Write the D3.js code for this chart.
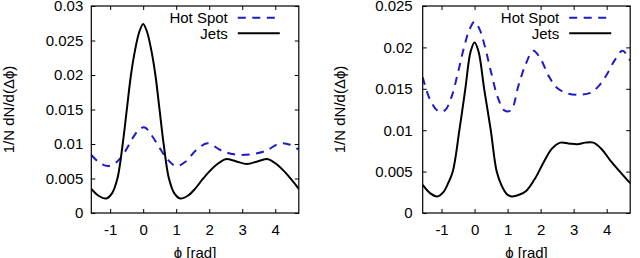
<!DOCTYPE html>
<html>
<head>
<meta charset="utf-8">
<script src="https://cdn.jsdelivr.net/npm/d3@7"></script>
<style>
  body { margin: 0; background: #fff; }
  svg { display: block; font-family: "Liberation Sans", Arial, sans-serif; }
  .axis path { display: none; }
  .axis line { stroke: #000; stroke-width: 1; }
  .axis text { font-size: 15px; fill: #000; }
</style>
</head>
<body>
<svg id="chart" width="640" height="258"></svg>
<script>
// x ticks shared by both panels
var phiTicks = [-1, 0, 1, 2, 3, 4];
var yTicksA = [0, 0.005, 0.01, 0.015, 0.02, 0.025, 0.03];
var yTicksB = [0, 0.005, 0.01, 0.015, 0.02, 0.025];

// left panel
var phiJetsA = [-1.57,-1.35,-1.12,-0.95,-0.78,-0.62,-0.5,-0.37,-0.25,-0.12,0,0.12,0.25,0.37,0.5,0.62,0.78,0.95,1.12,1.35,1.57,1.8,2.0,2.25,2.5,2.8,3.14,3.48,3.78,4.03,4.28,4.48,4.71];
var jetsA = [0.0035,0.0025,0.0021,0.0028,0.005,0.010,0.0148,0.020,0.0235,0.0262,0.0274,0.0262,0.0235,0.020,0.0148,0.010,0.005,0.0028,0.0021,0.0025,0.0035,0.0049,0.0060,0.0071,0.0078,0.0075,0.0071,0.0075,0.0078,0.0071,0.0060,0.0049,0.0035];
var phiHotA = [-1.57,-1.3,-1.05,-0.8,-0.55,-0.3,-0.1,0.05,0.25,0.5,0.75,1.0,1.3,1.6,1.95,2.35,2.75,3.25,3.7,4.15,4.45,4.71];
var hotA = [0.0084,0.0072,0.0068,0.0074,0.0089,0.0110,0.0122,0.0124,0.0113,0.0094,0.0077,0.0068,0.0075,0.0091,0.0101,0.0091,0.0085,0.0085,0.0090,0.0101,0.0099,0.0092];

// right panel
var phiJetsB = [-1.57,-1.35,-1.13,-0.95,-0.8,-0.66,-0.46,-0.28,-0.12,0,0.12,0.29,0.49,0.67,0.82,0.97,1.12,1.35,1.57,1.85,2.1,2.35,2.6,2.85,3.11,3.35,3.6,3.85,4.1,4.4,4.71];
var jetsB = [0.0034,0.0024,0.0020,0.0025,0.0036,0.0050,0.0100,0.0150,0.0195,0.0206,0.0195,0.0150,0.0100,0.0050,0.0033,0.0023,0.0020,0.0022,0.0027,0.0043,0.0062,0.0078,0.0085,0.0084,0.0083,0.0085,0.0085,0.0077,0.0064,0.0050,0.0036];
var phiHotB = [-1.57,-1.35,-1.1,-0.9,-0.7,-0.5,-0.3,-0.15,0,0.15,0.3,0.5,0.7,0.9,1.1,1.33,1.55,1.78,2.0,2.25,2.5,2.85,3.2,3.5,3.75,4.0,4.25,4.48,4.71];
var hotB = [0.0164,0.0137,0.0123,0.0124,0.0140,0.0170,0.0203,0.0222,0.0231,0.0222,0.0203,0.0170,0.0140,0.0124,0.0124,0.0154,0.0180,0.0196,0.0186,0.0165,0.0151,0.0144,0.0143,0.0145,0.0153,0.0167,0.0185,0.0196,0.0184];

var seriesNames = ["Hot Spot", "Jets"];
var hotColor = "#1c1cc8";

var svg = d3.select("#chart");

function drawPanel(id, left, pad, yMax, yTicks, phiHot, hot, phiJets, jets, titleX) {
    var top = 6, width = 207.5, height = 207;
    var g = svg.append("g").attr("transform", "translate(" + left + "," + top + ")");

    var x = d3.scaleLinear().domain([-Math.PI / 2, 3 * Math.PI / 2]).range([0, width]);
    var y = d3.scaleLinear().domain([0, yMax]).range([height, 0]);
    var fmt = function (d) { return String(d); };

    g.append("defs").append("clipPath").attr("id", "clip" + id)
        .append("rect").attr("width", width).attr("height", height);

    g.append("g").attr("class", "axis").attr("transform", "translate(0," + height + ")")
        .call(d3.axisBottom(x).tickValues(phiTicks).tickSize(-4).tickPadding(11).tickFormat(fmt));
    g.append("g").attr("class", "axis")
        .call(d3.axisTop(x).tickValues(phiTicks).tickSize(-4).tickFormat(""));
    g.append("g").attr("class", "axis")
        .call(d3.axisLeft(y).tickValues(yTicks).tickSize(-4).tickPadding(pad).tickFormat(fmt));
    g.append("g").attr("class", "axis").attr("transform", "translate(" + width + ",0)")
        .call(d3.axisRight(y).tickValues(yTicks).tickSize(-4).tickFormat(""));

    var line = d3.line()
        .x(function (d) { return x(d[0]); })
        .y(function (d) { return y(d[1]); })
        .curve(d3.curveCatmullRom.alpha(0.5));

    var plot = g.append("g").attr("clip-path", "url(#clip" + id + ")");
    plot.append("path")
        .datum(d3.zip(phiHot, hot))
        .attr("fill", "none").attr("stroke", hotColor).attr("stroke-width", 2)
        .attr("stroke-dasharray", "8,6.5")
        .attr("d", line);
    plot.append("path")
        .datum(d3.zip(phiJets, jets))
        .attr("fill", "none").attr("stroke", "#000").attr("stroke-width", 2)
        .attr("d", line);

    g.append("rect").attr("width", width).attr("height", height)
        .attr("fill", "none").attr("stroke", "#000").attr("stroke-width", 1.2);

    // legend
    var lg = g.append("g").attr("transform", "translate(" + (width - 71) + ",0)");
    seriesNames.forEach(function (name, i) {
        var ly = 11.7 + i * 15.6;
        lg.append("text").attr("x", 0).attr("y", ly + 5.3)
            .attr("text-anchor", "end").attr("font-size", 15).text(name);
        lg.append("line").attr("x1", 10).attr("x2", 52).attr("y1", ly).attr("y2", ly)
            .attr("stroke", i === 0 ? hotColor : "#000").attr("stroke-width", 2)
            .attr("stroke-dasharray", i === 0 ? "8,6.5" : null);
    });

    // axis titles
    g.append("text")
        .attr("transform", "translate(" + titleX + "," + (height / 2) + ") rotate(-90)")
        .attr("text-anchor", "middle").attr("font-size", 15)
        .text("1/N dN/d(\u0394\u03D5)");
    g.append("text")
        .attr("x", width / 2).attr("y", 252)
        .attr("text-anchor", "middle").attr("font-size", 15)
        .text("\u03D5 [rad]");
}

drawPanel("A", 91.3, 8, 0.03, yTicksA, phiHotA, hotA, phiJetsA, jetsA, -77.5);
drawPanel("B", 422.7, 10, 0.025, yTicksB, phiHotB, hotB, phiJetsB, jetsB, -77.5);
</script>
</body>
</html>
